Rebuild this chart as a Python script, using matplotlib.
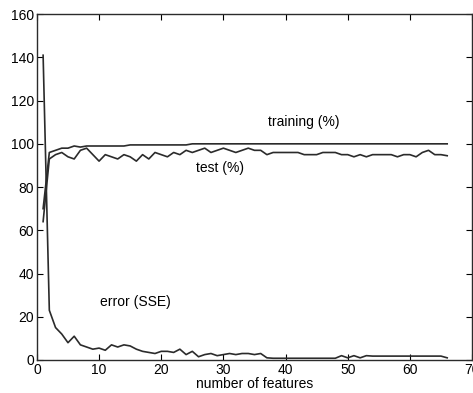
import matplotlib
matplotlib.use("Agg")
from matplotlib import pyplot as plt
import numpy as np

plt.rcParams['font.family'] = ['Liberation Sans', 'DejaVu Sans']

features = np.arange(1, 67)

training = [70, 96, 97, 98, 98, 99, 98.5, 99, 99, 99,
            99, 99, 99, 99, 99.5, 99.5, 99.5, 99.5, 99.5, 99.5,
            99.5, 99.5, 99.5, 99.5, 100, 100, 100, 100, 100, 100,
            100, 100, 100, 100, 100, 100, 100, 100, 100, 100,
            100, 100, 100, 100, 100, 100, 100, 100, 100, 100,
            100, 100, 100, 100, 100, 100, 100, 100, 100, 100,
            100, 100, 100, 100, 100, 100]

test = [64, 93, 95, 96, 94, 93, 97, 98, 95, 92,
        95, 94, 93, 95, 94, 92, 95, 93, 96, 95,
        94, 96, 95, 97, 96, 97, 98, 96, 97, 98,
        97, 96, 97, 98, 97, 97, 95, 96, 96, 96,
        96, 96, 95, 95, 95, 96, 96, 96, 95, 95,
        94, 95, 94, 95, 95, 95, 95, 94, 95, 95,
        94, 96, 97, 95, 95, 94.5]

error = [141, 23, 15, 12, 8, 11, 7, 6, 5, 5.5,
         4.5, 7, 6, 7, 6.5, 5, 4, 3.5, 3, 4,
         4, 3.5, 5, 2.5, 4, 1.5, 2.5, 3, 2, 2.5,
         3, 2.5, 3, 3, 2.5, 3, 1, 0.8, 0.8, 0.8,
         0.8, 0.8, 0.8, 0.8, 0.8, 0.8, 0.8, 0.8, 2, 1,
         2, 1, 2, 1.8, 1.8, 1.8, 1.8, 1.8, 1.8, 1.8,
         1.8, 1.8, 1.8, 1.8, 1.8, 1]

fig = plt.figure(figsize=(4.73, 3.93), dpi=100)
ax = fig.add_axes([0.078, 0.084, 0.92, 0.88])

col = '#2b2b2b'
ax.plot(features, training, color=col, lw=1.2)
ax.plot(features, test, color=col, lw=1.2)
ax.plot(features, error, color=col, lw=1.2)

ax.text(43, 110, 'training (%)', ha='center', va='center', fontsize=10)
ax.text(29.5, 89, 'test (%)', ha='center', va='center', fontsize=10)
ax.text(15.8, 27, 'error (SSE)', ha='center', va='center', fontsize=10)

ax.set_xlim(0, 70)
ax.set_ylim(0, 160)
ax.set_xticks(range(0, 71, 10))
ax.set_yticks(range(0, 161, 20))
ax.tick_params(direction='in', top=True, right=True, length=4, labelsize=10, pad=2)
ax.set_xlabel('number of features', fontsize=10, labelpad=0)
for s in ax.spines.values():
    s.set_color(col)
    s.set_linewidth(1.0)

fig.savefig('out.png', dpi=100)
